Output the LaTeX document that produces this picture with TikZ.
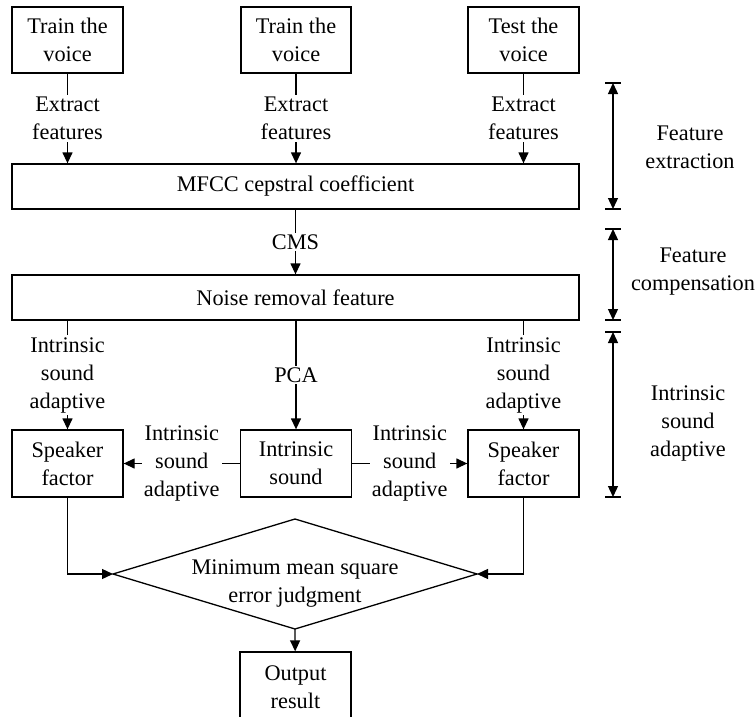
\documentclass[tikz,border=0pt]{standalone}
\usepackage{fontspec}
\setmainfont{Liberation Serif}
\usetikzlibrary{arrows.meta}
\tikzset{
  box/.style={draw, line width=1.3pt, align=center, inner sep=0pt},
  lab/.style={fill=white, align=center, inner sep=2pt},
  txt/.style={align=center, inner sep=0pt},
  arr/.style={-{Triangle[width=10pt,length=11pt]}, line width=1.3pt},
  dbl/.style={{Triangle[width=10pt,length=11pt]}-{Triangle[width=10pt,length=11pt]}, line width=1.3pt},
  ln/.style={line width=1.3pt},
}
\begin{document}
\begin{tikzpicture}[x=1pt,y=-1pt,font=\fontsize{22.3}{28}\selectfont]
\useasboundingbox (0,0) rectangle (755,717);

% top boxes
\node[box, minimum width=111pt, minimum height=66pt] (t1) at (67.5,40) {Train the\\voice};
\node[box, minimum width=110pt, minimum height=66pt] (t2) at (296,40) {Train the\\voice};
\node[box, minimum width=111pt, minimum height=66pt] (t3) at (523.5,40) {Test the\\voice};

\node[box, minimum width=567pt, minimum height=45pt] (mfcc) at (295.5,186.5) {MFCC cepstral coefficient};
\node[box, minimum width=567pt, minimum height=45pt] (noise) at (295.5,297.5) {Noise removal feature};

\node[box, minimum width=111pt, minimum height=67pt] (sp1) at (67.5,463.5) {Speaker\\factor};
\node[box, minimum width=111pt, minimum height=67pt] (is) at (296,463.5) {Intrinsic\\sound};
\node[box, minimum width=111pt, minimum height=67pt] (sp2) at (523.5,463.5) {Speaker\\factor};

% diamond
\coordinate (dt) at (295,519);
\coordinate (dr) at (477,574);
\coordinate (db) at (295,629);
\coordinate (dl) at (113,574);
\draw[ln] (dt) -- (dr) -- (db) -- (dl) -- cycle;
\node[txt] (dtext) at (295,584) {Minimum mean square\\error judgment};

\node[box, minimum width=111pt, minimum height=70pt] (out) at (295.5,687) {Output\\result};

% connectors
\draw[arr] (t1) -- (t1 |- mfcc.north) node[lab, midway] {Extract\\features};
\draw[arr] (t2) -- (t2 |- mfcc.north) node[lab, midway] {Extract\\features};
\draw[arr] (t3) -- (t3 |- mfcc.north) node[lab, midway] {Extract\\features};
\draw[arr] (mfcc) -- (noise) node[lab, midway] {CMS};
\draw[arr] (sp1 |- noise.south) -- (sp1) node[lab, midway] {Intrinsic\\sound\\adaptive};
\draw[arr] (sp2 |- noise.south) -- (sp2) node[lab, midway] {Intrinsic\\sound\\adaptive};
\draw[arr] (is |- noise.south) -- (is) node[lab, midway] {PCA};
\draw[arr] (is) -- (sp1) node[lab, midway] {Intrinsic\\sound\\adaptive};
\draw[arr] (is) -- (sp2) node[lab, midway] {Intrinsic\\sound\\adaptive};
\draw[arr] (sp1) |- (dl);
\draw[arr] (sp2) |- (dr);
\draw[arr] (db) -- (out);

% right brackets
\coordinate (b1t) at (613,83);
\coordinate (b1b) at (613,209);
\coordinate (b2t) at (613,229);
\coordinate (b2b) at (613,320);
\coordinate (b3t) at (613,332);
\coordinate (b3b) at (613,497);
\foreach \c in {b1t,b1b,b2t,b2b,b3t,b3b}
  \draw[ln] ([xshift=-8pt]\c) -- ([xshift=8pt]\c);
\draw[dbl] (b1t) -- (b1b);
\draw[dbl] (b2t) -- (b2b);
\draw[dbl] (b3t) -- (b3b);

\node[txt] (l1) at (690,147) {Feature\\extraction};
\node[txt] (l2) at (693,272) {Feature\\compensation};
\node[txt] (l3) at (688,423) {Intrinsic\\sound\\adaptive};
\end{tikzpicture}
\end{document}
